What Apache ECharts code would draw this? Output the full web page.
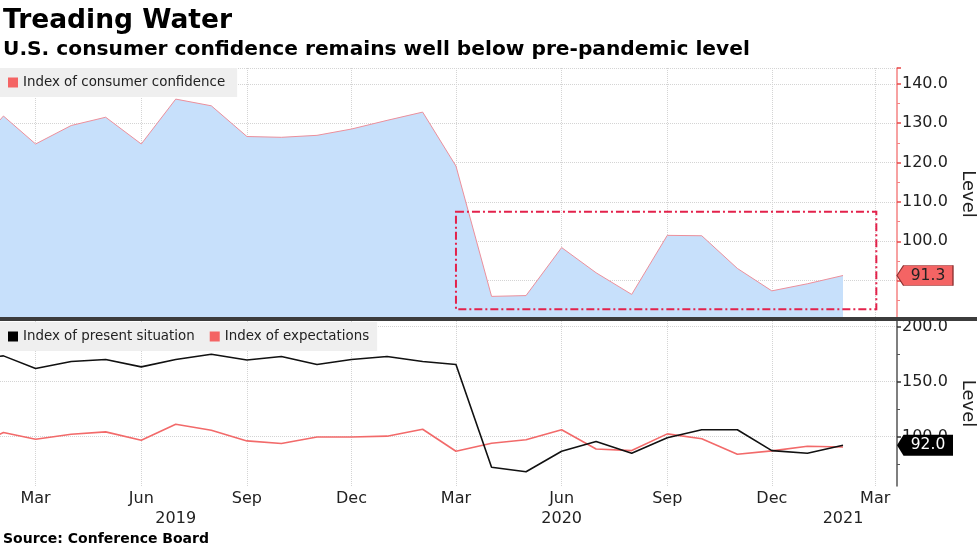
<!DOCTYPE html>
<html><head><meta charset="utf-8">
<script src="https://cdn.jsdelivr.net/npm/echarts@6/dist/echarts.min.js"></script>
<style>html,body{margin:0;padding:0;background:#fff}#c{width:977px;height:549px}</style>
</head><body><div id="c"></div>
<script>
// ---------- data ----------
const months = ['2019-01','2019-02','2019-03','2019-04','2019-05','2019-06','2019-07','2019-08','2019-09','2019-10','2019-11','2019-12',
                '2020-01','2020-02','2020-03','2020-04','2020-05','2020-06','2020-07','2020-08','2020-09','2020-10','2020-11','2020-12',
                '2021-01','2021-02'];
const confidence = [121.7,131.8,124.7,129.4,131.5,124.7,136.1,134.4,126.6,126.4,126.9,128.5,
                    130.7,132.8,119.1,86.0,86.2,98.4,92.0,86.5,101.5,101.4,93.1,87.4,
                    89.2,91.3];
const presentSituation = [169.6,173.3,161.8,168.2,170.0,163.3,170.0,174.8,169.6,172.7,165.5,170.0,
                          172.7,168.2,165.5,72.0,68.0,86.6,95.4,84.8,98.8,106.1,106.1,87.2,
                          84.8,92.0];
const expectations = [89.4,103.6,97.5,102.1,104.2,96.6,111.2,105.7,96.0,93.6,99.6,99.6,
                      100.3,106.6,86.6,93.9,97.0,106.1,88.7,87.2,102.4,97.9,83.8,86.9,
                      91.2,90.5];
const quarterTicks = ['2019-03','2019-06','2019-09','2019-12','2020-03','2020-06','2020-09','2020-12','2021-03'];
const yearTicks = ['2019-07','2020-06','2021-02'];
const bottomTickLabels = [100,150,200];
const bottomMinorTicks = [75,125,175];
const highlightBox = [['2020-03-01',107.5],['2021-03-02',82.7]];
const xRange = ['2019-01-29','2021-03-20'];
const topRange = [80,144];
const bottomRange = [55,205];

// ---------- helpers ----------
function ts(s){const p=s.split('-').map(Number);return new Date(p[0],p[1]-1,p[2]||1).getTime();}
const MN=['Jan','Feb','Mar','Apr','May','Jun','Jul','Aug','Sep','Oct','Nov','Dec'];
const xMin=ts(xRange[0]), xMax=ts(xRange[1]);
const qTs=quarterTicks.map(ts), yTs=yearTicks.map(ts);
const FONT='DejaVu Sans';
const grid='#d4d4d4';
const last=a=>a[a.length-1];

const tagPath='path://M0,10L7,0L60,0L60,20L7,20Z';

const chart=echarts.init(document.getElementById('c'),null,{renderer:'canvas'});
chart.setOption({
  animation:false,
  backgroundColor:'#fff',
  title:[
    {text:'Treading Water',left:3,top:8,padding:0,textStyle:{fontFamily:FONT,fontWeight:'bold',fontSize:26.5,color:'#000'}},
    {text:'U.S. consumer confidence remains well below pre-pandemic level',left:3,top:40,padding:0,textStyle:{fontFamily:FONT,fontWeight:'bold',fontSize:20.2,color:'#000'}},
    {text:'Source: Conference Board',left:3,top:532,padding:0,textStyle:{fontFamily:FONT,fontWeight:'bold',fontSize:14,color:'#000'}}
  ],
  legend:[
    {left:0,top:68,padding:[8,12,8,8],backgroundColor:'#efefef',itemWidth:10,itemHeight:10,icon:'rect',selectedMode:false,
     textStyle:{fontFamily:FONT,fontSize:13.4,color:'#222'},
     data:[{name:'Index of consumer confidence',itemStyle:{color:'#f46464'}}]},
    {left:0,top:322,padding:[8,8,8,8],backgroundColor:'#efefef',itemWidth:10,itemHeight:10,itemGap:15,icon:'rect',selectedMode:false,
     textStyle:{fontFamily:FONT,fontSize:13.4,color:'#222'},
     data:[{name:'Index of present situation',itemStyle:{color:'#000'}},{name:'Index of expectations',itemStyle:{color:'#f46464'}}]}
  ],
  grid:[
    {left:0,right:80,top:68,height:252,outerBoundsMode:'none',containLabel:false},
    {left:0,right:80,top:321,height:165,outerBoundsMode:'none',containLabel:false}
  ],
  xAxis:[
    {gridIndex:0,type:'value',min:xMin,max:xMax,axisLine:{show:false},axisTick:{show:false,customValues:qTs},
     axisLabel:{show:false,customValues:qTs},splitLine:{show:true,lineStyle:{color:grid,type:'dotted'}}},
    {gridIndex:1,type:'value',min:xMin,max:xMax,axisLine:{show:false},axisTick:{show:false,customValues:qTs},
     axisLabel:{customValues:qTs,margin:5,fontFamily:FONT,fontSize:16,color:'#222',formatter:v=>MN[new Date(v).getMonth()]},
     splitLine:{show:true,lineStyle:{color:grid,type:'dotted'}}},
    {gridIndex:1,type:'value',position:'bottom',offset:0,min:xMin,max:xMax,axisLine:{show:false},axisTick:{show:false,customValues:yTs},
     axisLabel:{customValues:yTs,margin:25,fontFamily:FONT,fontSize:16,color:'#222',formatter:v=>String(new Date(v).getFullYear())},
     splitLine:{show:false}}
  ],
  yAxis:[
    {gridIndex:0,type:'value',position:'right',min:topRange[0],max:topRange[1],interval:10,
     name:'Level',nameLocation:'middle',nameRotate:-90,nameGap:58,nameTextStyle:{fontFamily:FONT,fontSize:18,color:'#222'},
     axisLine:{show:true,lineStyle:{color:'#f58383',width:1.5}},
     axisTick:{show:true,length:4,lineStyle:{color:'#e84848',width:1.5}},
     minorTick:{show:true,splitNumber:2,length:3,lineStyle:{color:'#f58383'}},
     axisLabel:{showMinLabel:false,showMaxLabel:false,margin:5,fontFamily:FONT,fontSize:16,color:'#222',formatter:v=>v.toFixed(1)},
     splitLine:{show:true,lineStyle:{color:grid,type:'dotted'}}},
    {gridIndex:1,type:'value',position:'right',min:bottomRange[0],max:bottomRange[1],
     name:'Level',nameLocation:'middle',nameRotate:-90,nameGap:58,nameTextStyle:{fontFamily:FONT,fontSize:18,color:'#222'},
     axisLine:{show:true,lineStyle:{color:'#555',width:1.5}},
     axisTick:{show:true,length:4,customValues:bottomTickLabels,lineStyle:{color:'#333',width:1.5}},
     axisLabel:{customValues:bottomTickLabels,margin:5,fontFamily:FONT,fontSize:16,color:'#222',formatter:v=>v.toFixed(1)},
     splitLine:{show:true,lineStyle:{color:grid,type:'dotted'}}},
    {gridIndex:1,type:'value',position:'right',min:bottomRange[0],max:bottomRange[1],
     axisLine:{show:false},axisTick:{show:true,length:3,customValues:bottomMinorTicks,lineStyle:{color:'#555'}},
     axisLabel:{show:false,customValues:bottomMinorTicks},splitLine:{show:false}}
  ],
  series:[
    {name:'Index of consumer confidence',type:'line',xAxisIndex:0,yAxisIndex:0,symbol:'none',z:3,
     data:months.map((m,i)=>[ts(m),confidence[i]]),
     lineStyle:{color:'#ec8f9b',width:1},itemStyle:{color:'#f46464'},
     areaStyle:{color:'#c7e0fb',opacity:1,origin:'start'},
     markArea:{silent:true,z:10,itemStyle:{color:'rgba(0,0,0,0)',borderColor:'#e3224b',borderWidth:2,borderType:[8,3,2,3]},
       data:[[{coord:[ts(highlightBox[0][0]),highlightBox[0][1]]},{coord:[ts(highlightBox[1][0]),highlightBox[1][1]]}]]},
     markPoint:{silent:true,z:12,symbol:tagPath,symbolSize:[56,20],symbolKeepAspect:false,symbolOffset:[28,0],
       itemStyle:{color:'#f46464',borderColor:'#8a3030',borderWidth:0.8},
       label:{show:true,position:'inside',offset:[3,0],fontFamily:FONT,fontSize:15.5,color:'#222',formatter:p=>p.value.toFixed(1)},
       data:[{coord:[xMax,last(confidence)],value:last(confidence)}]}},
    {name:'Index of present situation',type:'line',xAxisIndex:1,yAxisIndex:1,symbol:'none',z:10,
     data:months.map((m,i)=>[ts(m),presentSituation[i]]),
     lineStyle:{color:'#111',width:1.6},itemStyle:{color:'#000'},
     markPoint:{silent:true,z:12,symbol:tagPath,symbolSize:[56,21],symbolKeepAspect:false,symbolOffset:[28,0],
       itemStyle:{color:'#000'},
       label:{show:true,position:'inside',offset:[3,0],fontFamily:FONT,fontSize:15.5,color:'#fff',formatter:p=>p.value.toFixed(1)},
       data:[{coord:[xMax,last(presentSituation)],value:last(presentSituation)}]}},
    {name:'Index of expectations',type:'line',xAxisIndex:1,yAxisIndex:1,symbol:'none',z:9,
     data:months.map((m,i)=>[ts(m),expectations[i]]),
     lineStyle:{color:'#f26a6a',width:1.6},itemStyle:{color:'#f46464'}}
  ],
  graphic:[
    {type:'rect',left:0,top:317,shape:{width:977,height:4},style:{fill:'#3c3c3c'},z:100}
  ]
});
</script></body></html>
